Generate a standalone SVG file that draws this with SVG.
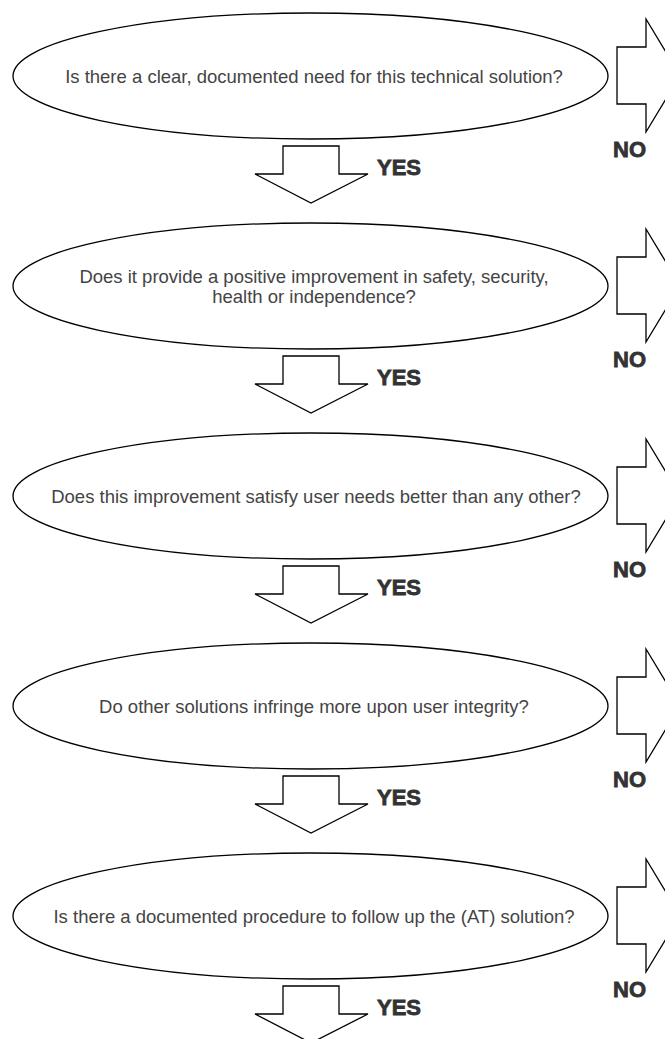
<svg xmlns="http://www.w3.org/2000/svg" xmlns:xlink="http://www.w3.org/1999/xlink" width="665" height="1039" viewBox="0 0 665 1039">
  <style>
    .q { fill: #ffffff; stroke: #000000; stroke-width: 1.3; }
    .qt { font-family: "Liberation Sans", Arial, sans-serif; font-size: 18.5px; fill: #444444; text-anchor: middle; }
    .arr { fill: #ffffff; stroke: #000000; stroke-width: 1.3; stroke-linejoin: miter; }
    .lbl { font-family: "Liberation Sans", Arial, sans-serif; font-size: 22px; font-weight: bold; fill: #333333; stroke: #333333; stroke-width: 0.8; }
  </style>
  <defs>
    <polygon id="down" class="arr" points="-28,70 28,70 28,98 57,98 0,127 -56,98 -28,98 -28,70"/>
    <polygon id="right" class="arr" points="617,-28.5 646,-28.5 646,-56.5 680,0 646,56.5 646,28.5 617,28.5"/>
  </defs>
  <rect width="665" height="1039" fill="#ffffff"/>

  <g id="q1">
    <ellipse class="q" cx="310.5" cy="76" rx="297.5" ry="63"/>
    <text class="qt" x="314" y="83">Is there a clear, documented need for this technical solution?</text>
  </g>
  <g id="q2">
    <ellipse class="q" cx="310.5" cy="286" rx="297.5" ry="63"/>
    <text class="qt" x="314" y="283">Does it provide a positive improvement in safety, security,</text>
    <text class="qt" x="314" y="303">health or independence?</text>
  </g>
  <g id="q3">
    <ellipse class="q" cx="310.5" cy="496" rx="297.5" ry="63"/>
    <text class="qt" x="316" y="503">Does this improvement satisfy user needs better than any other?</text>
  </g>
  <g id="q4">
    <ellipse class="q" cx="310.5" cy="706" rx="297.5" ry="63"/>
    <text class="qt" x="314" y="713">Do other solutions infringe more upon user integrity?</text>
  </g>
  <g id="q5">
    <ellipse class="q" cx="310.5" cy="916" rx="297.5" ry="63"/>
    <text class="qt" x="314" y="923">Is there a documented procedure to follow up the (AT) solution?</text>
  </g>

  <g id="connectors">
    <use xlink:href="#right" href="#right" x="0" y="75.5"/>
    <use xlink:href="#right" href="#right" x="0" y="285.5"/>
    <use xlink:href="#right" href="#right" x="0" y="495.5"/>
    <use xlink:href="#right" href="#right" x="0" y="705.5"/>
    <use xlink:href="#right" href="#right" x="0" y="915.5"/>
    <use xlink:href="#down" href="#down" x="311" y="76"/>
    <use xlink:href="#down" href="#down" x="311" y="286"/>
    <use xlink:href="#down" href="#down" x="311" y="496"/>
    <use xlink:href="#down" href="#down" x="311" y="706"/>
    <use xlink:href="#down" href="#down" x="311" y="916"/>
    <text class="lbl" x="613" y="157">NO</text>
    <text class="lbl" x="613" y="367">NO</text>
    <text class="lbl" x="613" y="577">NO</text>
    <text class="lbl" x="613" y="787">NO</text>
    <text class="lbl" x="613" y="997">NO</text>
    <text class="lbl" x="377" y="175">YES</text>
    <text class="lbl" x="377" y="385">YES</text>
    <text class="lbl" x="377" y="595">YES</text>
    <text class="lbl" x="377" y="805">YES</text>
    <text class="lbl" x="377" y="1015">YES</text>
  </g>
</svg>
